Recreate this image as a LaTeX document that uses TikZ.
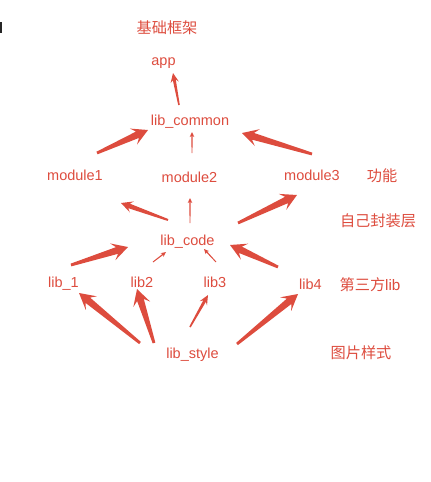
\documentclass[tikz,border=0pt]{standalone}
\usepackage{fontspec}
\setmainfont{Liberation Sans}
\newfontfamily\cjk{Noto Sans CJK SC}
\usetikzlibrary{calc}
\definecolor{ared}{RGB}{221,76,62}
% generic tapered arrow: tail, tip, tail half width, neck half width, barb half width, head length, neck distance
\newcommand\redarrowgen[7]{%
  \path ($(#2)!#6!(#1)$) coordinate (rb) ($(#2)!#7!(#1)$) coordinate (rn);
  \fill[ared] ($(#1)!#3!90:(#2)$) -- ($(rn)!#4!90:(#2)$) -- ($(rb)!#5!90:(#2)$) -- (#2)
    -- ($(rb)!#5!-90:(#2)$) -- ($(rn)!#4!-90:(#2)$) -- ($(#1)!#3!-90:(#2)$) -- cycle;}
\newcommand\thickarrow[2]{\redarrowgen{#1}{#2}{1.4pt}{3.5pt}{8.8pt}{16pt}{11.5pt}}
\newcommand\midarrow[2]{\redarrowgen{#1}{#2}{1pt}{2.4pt}{5.8pt}{11.5pt}{8.5pt}}
\newcommand\smallarrow[2]{\redarrowgen{#1}{#2}{0.8pt}{1.5pt}{4.2pt}{9.5pt}{7pt}}
\newcommand\thinarrow[2]{\redarrowgen{#1}{#2}{0.45pt}{0.6pt}{2.3pt}{5pt}{4pt}}
\tikzset{
  txt/.style={text=ared, font=\fontsize{14.5}{16}\selectfont, inner sep=0pt, anchor=base},
  cjktxt/.style={text=ared, font=\cjk\fontsize{15.2}{17}\selectfont, inner sep=0pt, anchor=center},
}
\begin{document}
\begin{tikzpicture}[x=1pt,y=-1pt]
\useasboundingbox (0,0) rectangle (431,482);
\fill[black!85] (0,22) rectangle (1.5,33);
% labels
\node[cjktxt] (t1) at (167,28) {基础框架};
\node[cjktxt] (t2) at (382,175.5) {功能};
\node[cjktxt] (t3) at (378,221) {自己封装层};
\node[cjktxt] (t4) at (370,285) {{\cjk 第三方}\fontspec{Liberation Sans}lib};
\node[cjktxt] (t5) at (361,353) {图片样式};
% nodes
\node[txt] (app) at (163.5,65) {app};
\node[txt] (lc) at (190,125) {lib\_common};
\node[txt] (m1) at (75,180) {module1};
\node[txt] (m2) at (189.5,182.5) {module2};
\node[txt] (m3) at (312,180) {module3};
\node[txt] (lcode) at (187.5,245) {lib\_code};
\node[txt] (l1) at (63.5,287) {lib\_1};
\node[txt] (l2) at (142,287) {lib2};
\node[txt] (l3) at (215,287) {lib3};
\node[txt] (l4) at (310.5,289) {lib4};
\node[txt] (ls) at (192.5,358.5) {lib\_style};
% connector end points
\coordinate (lc-app) at (179,105);   \coordinate (app-in) at (173,73);
\coordinate (m1-out) at (97,153);    \coordinate (lc-in1) at (148,130);
\coordinate (m2-out) at (192,153);   \coordinate (lc-in2) at (192,132);
\coordinate (m3-out) at (312,154);   \coordinate (lc-in3) at (242,133);
\coordinate (lcode-o1) at (168,220); \coordinate (m1-in) at (121,203);
\coordinate (lcode-o2) at (190,223); \coordinate (m2-in) at (190,198);
\coordinate (lcode-o3) at (238,223); \coordinate (m3-in) at (297,195);
\coordinate (l1-out) at (71,265);    \coordinate (lcode-i1) at (128,247);
\coordinate (l2-out) at (153,262);   \coordinate (lcode-i2) at (166,252);
\coordinate (l3-out) at (216,262);   \coordinate (lcode-i3) at (204,249);
\coordinate (l4-out) at (278,267);   \coordinate (lcode-i4) at (230,245);
\coordinate (ls-o1) at (140,343);    \coordinate (l1-in) at (79,293);
\coordinate (ls-o2) at (154,343);    \coordinate (l2-in) at (137,289);
\coordinate (ls-o3) at (190,327);    \coordinate (l3-in) at (208,295);
\coordinate (ls-o4) at (237,344);    \coordinate (l4-in) at (298,294);
% connectors
\smallarrow{lc-app}{app-in}
\thickarrow{m1-out}{lc-in1}
\thinarrow{m2-out}{lc-in2}
\thickarrow{m3-out}{lc-in3}
\midarrow{lcode-o1}{m1-in}
\thinarrow{lcode-o2}{m2-in}
\thickarrow{lcode-o3}{m3-in}
\thickarrow{l1-out}{lcode-i1}
\thinarrow{l2-out}{lcode-i2}
\thinarrow{l3-out}{lcode-i3}
\thickarrow{l4-out}{lcode-i4}
\thickarrow{ls-o1}{l1-in}
\thickarrow{ls-o2}{l2-in}
\smallarrow{ls-o3}{l3-in}
\thickarrow{ls-o4}{l4-in}
\end{tikzpicture}
\end{document}
